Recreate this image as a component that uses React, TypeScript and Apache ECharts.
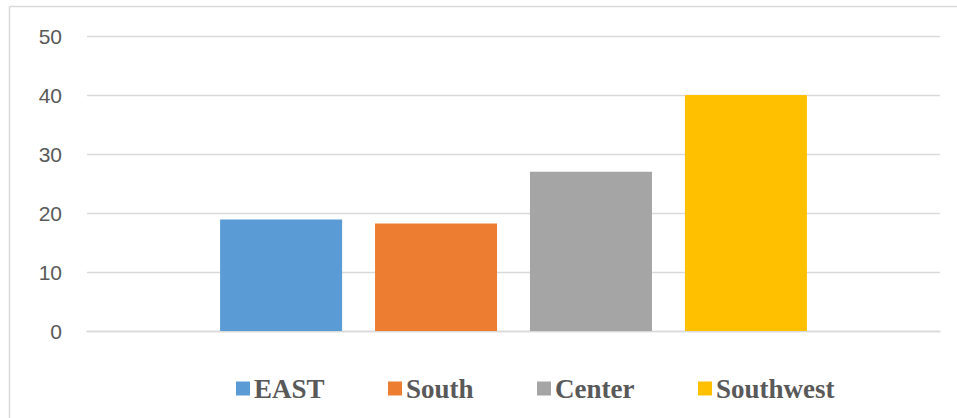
import React, { useEffect, useRef } from "react";
import * as echarts from "echarts";

const categories = [""];
const seriesNames = ["EAST", "South", "Center", "Southwest"];
const seriesValues = [18.9, 18.2, 27.0, 40.0];
const seriesColors = ["#5B9BD5", "#ED7D31", "#A5A5A5", "#FFC000"];
const legendLefts = [236, 388, 537, 698];

export default function App() {
  const ref = useRef<HTMLDivElement>(null);
  useEffect(() => {
    if (!ref.current) return;
    const chart = echarts.init(ref.current, undefined, { renderer: "svg" });
    chart.setOption({
      animation: false,
      backgroundColor: "#ffffff",
      grid: { left: 87, right: 17, top: 36, bottom: 87 },
      legend: seriesNames.map((name, i) => ({
        data: [name],
        left: legendLefts[i],
        top: 375,
        itemWidth: 14,
        itemHeight: 14,
        itemGap: 0,
        padding: 0,
        icon: "rect",
        textStyle: {
          fontFamily: "Liberation Serif",
          fontWeight: "bold",
          fontSize: 27,
          color: "#595959",
          padding: [0, 0, 0, -1],
        },
      })),
      xAxis: {
        type: "category",
        data: categories,
        axisLine: { show: true, lineStyle: { color: "#d9d9d9", width: 1.3 } },
        axisTick: { show: false },
        axisLabel: { show: false },
      },
      yAxis: {
        type: "value",
        min: 0,
        max: 50,
        interval: 10,
        axisLine: { show: false },
        axisTick: { show: false },
        axisLabel: {
          fontFamily: "Liberation Sans",
          fontSize: 21,
          color: "#595959",
          margin: 25,
        },
        splitLine: { lineStyle: { color: "#d9d9d9", width: 1.3 } },
      },
      series: seriesNames.map((name, i) => ({
        name,
        type: "bar",
        data: [seriesValues[i]],
        barWidth: 122,
        barGap: "27%",
        itemStyle: { color: seriesColors[i] },
      })),
      graphic: [
        {
          type: "line",
          shape: { x1: 9.5, y1: 6.5, x2: 957, y2: 6.5 },
          style: { stroke: "#d9d9d9", lineWidth: 1.5 },
          silent: true,
        },
        {
          type: "line",
          shape: { x1: 9.5, y1: 6.5, x2: 9.5, y2: 418 },
          style: { stroke: "#d9d9d9", lineWidth: 1.5 },
          silent: true,
        },
      ],
    });
    return () => chart.dispose();
  }, []);
  return (
    <div
      ref={ref}
      style={{ position: "fixed", left: 0, top: 0, width: 957, height: 418 }}
    />
  );
}
